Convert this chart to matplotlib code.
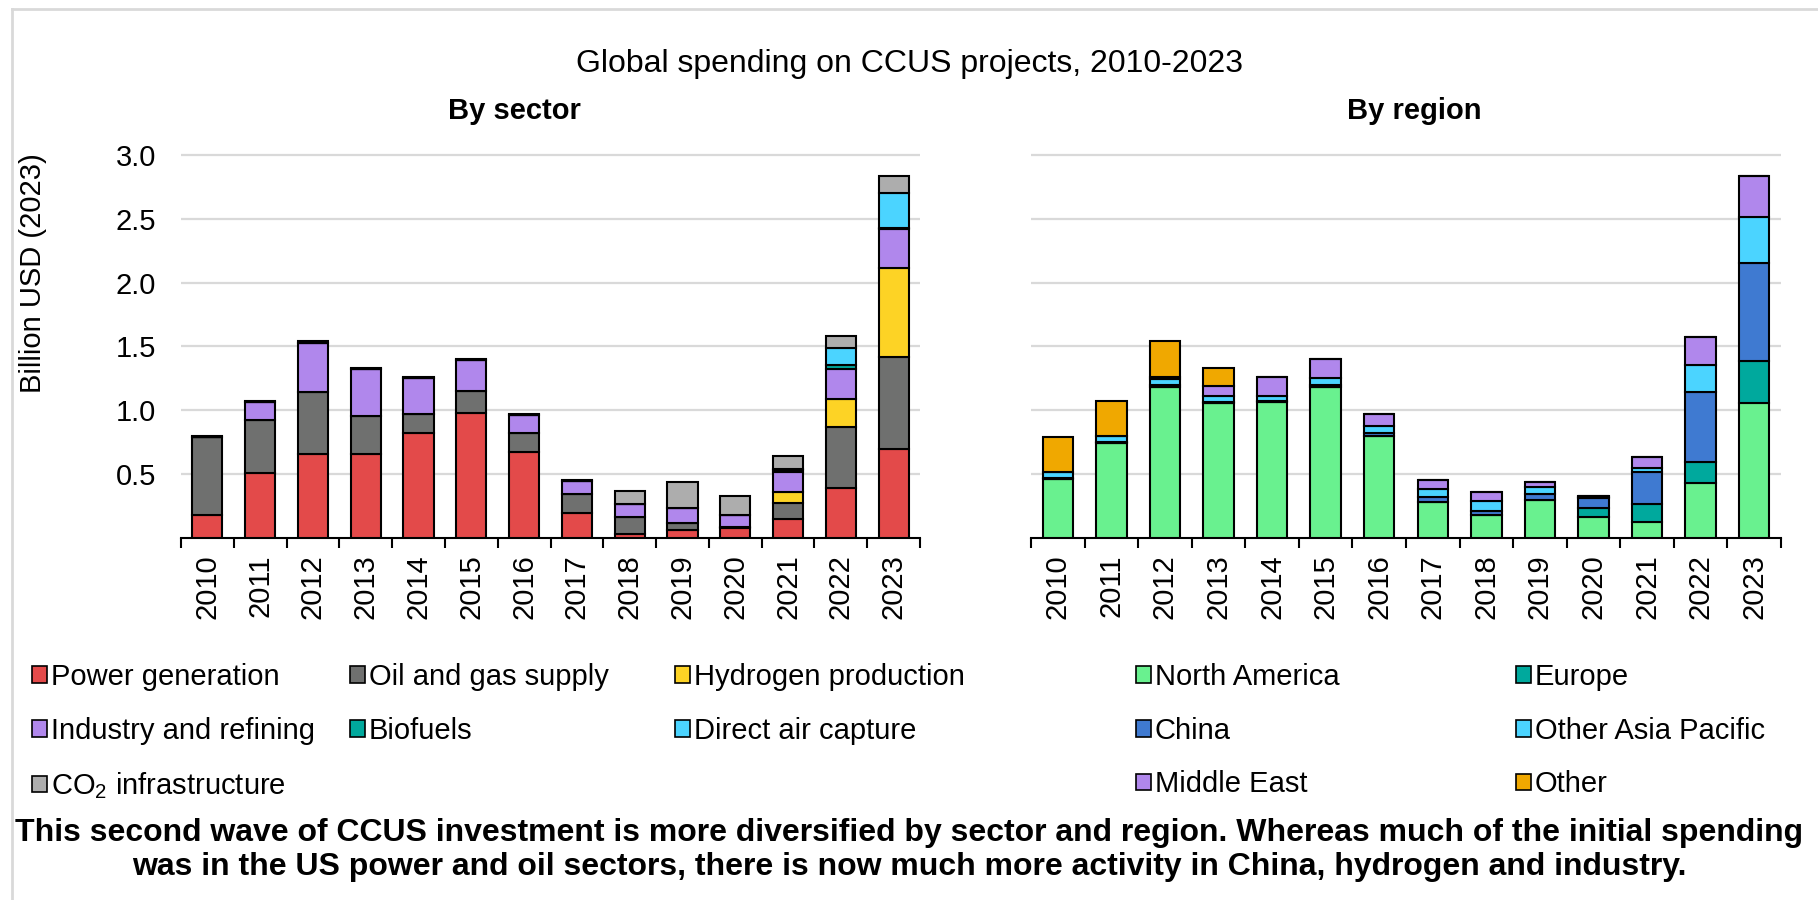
import numpy as np
import matplotlib.pyplot as plt
from matplotlib.patches import Patch
from matplotlib.lines import Line2D

plt.rcParams['font.family'] = ['Liberation Sans', 'DejaVu Sans']
plt.rcParams['mathtext.fontset'] = 'custom'
plt.rcParams['mathtext.rm'] = 'Liberation Sans'
plt.rcParams['mathtext.it'] = 'Liberation Sans'

# data (billion USD 2023)
years = list(range(2010, 2024))

sector_names = ['Power generation', 'Oil and gas supply', 'Hydrogen production',
                'Industry and refining', 'Biofuels', 'Direct air capture',
                'CO$_\\mathregular{2}$ infrastructure']
power = [0.18, 0.51, 0.656, 0.656, 0.82, 0.98, 0.67, 0.196, 0.026, 0.06, 0.076, 0.144, 0.392, 0.692]
oil_gas = [0.61, 0.41, 0.489, 0.30, 0.15, 0.17, 0.15, 0.144, 0.134, 0.058, 0.01, 0.128, 0.473, 0.728]
hydrogen = [0, 0, 0, 0, 0, 0, 0, 0, 0, 0, 0, 0.086, 0.225, 0.69]
industry = [0, 0.14, 0.378, 0.364, 0.28, 0.243, 0.14, 0.107, 0.104, 0.117, 0.092, 0.154, 0.23, 0.307]
biofuels = [0, 0, 0, 0, 0, 0, 0, 0, 0, 0, 0, 0.02, 0.03, 0.013]
dac = [0, 0, 0, 0, 0, 0, 0, 0, 0, 0, 0, 0.006, 0.137, 0.27]
co2_infra = [0.01, 0.01, 0.015, 0.01, 0.01, 0.01, 0.01, 0.008, 0.102, 0.205, 0.149, 0.10, 0.093, 0.136]
sector_colors = ['#E34A4A', '#6F706F', '#FDD325', '#B087EC', '#00A99D', '#4BD4FF', '#ADADAD']

region_names = ['North America', 'Europe', 'China', 'Other Asia Pacific', 'Middle East', 'Other']
north_america = [0.46, 0.74, 1.18, 1.055, 1.06, 1.184, 0.797, 0.277, 0.18, 0.295, 0.162, 0.12, 0.426, 1.053]
europe = [0, 0, 0, 0, 0, 0, 0, 0, 0, 0, 0.071, 0.144, 0.17, 0.334]
china = [0.01, 0.01, 0.015, 0.01, 0.008, 0.01, 0.02, 0.039, 0.03, 0.047, 0.075, 0.251, 0.549, 0.769]
other_apac = [0.045, 0.044, 0.045, 0.045, 0.045, 0.056, 0.061, 0.064, 0.08, 0.058, 0.01, 0.035, 0.211, 0.358]
middle_east = [0, 0, 0.017, 0.08, 0.147, 0.15, 0.092, 0.072, 0.07, 0.036, 0.009, 0.085, 0.22, 0.324]
other = [0.275, 0.276, 0.283, 0.14, 0, 0, 0, 0, 0, 0, 0, 0, 0, 0]
region_colors = ['#69F18F', '#00A99D', '#3F7AD1', '#4BD4FF', '#B087EC', '#F0A800']

yticks = [0.5, 1.0, 1.5, 2.0, 2.5, 3.0]

W, H = 1818, 900
fs = 21
fig = plt.figure(figsize=(W / 100, H / 100), dpi=100)


def box(x0, x1, ytop, ybot):
    return [x0 / W, 1 - ybot / H, (x1 - x0) / W, (ybot - ytop) / H]


def stacked(ax, series, colors, show_y):
    x = np.arange(len(years))
    bottom = np.zeros(len(years))
    for vals, c in zip(series, colors):
        vals = np.array(vals, dtype=float)
        ax.bar(x, vals, 0.57, bottom=bottom, color=c, edgecolor='black',
               linewidth=1.5, zorder=3)
        bottom += vals
    ax.set_xlim(-0.5, len(years) - 0.5)
    ax.set_ylim(0, 3.03)
    ax.set_xticks(x)
    ax.set_xticklabels([str(y) for y in years], rotation=90, fontsize=fs)
    ax.set_xticks(np.arange(-0.5, len(years), 1), minor=True)
    ax.tick_params(axis='x', which='major', length=0, pad=12)
    ax.tick_params(axis='x', which='minor', length=7, width=1.5, direction='out')
    ax.set_yticks(yticks)
    ax.set_yticklabels(['%.1f' % v for v in yticks], fontsize=fs)
    ax.tick_params(axis='y', length=0, pad=18, labelleft=show_y)
    ax.yaxis.grid(True, color='#D9D9D9', linewidth=1.6, zorder=0)
    ax.set_axisbelow(True)
    for s in ['top', 'right', 'left']:
        ax.spines[s].set_visible(False)
    ax.spines['bottom'].set_linewidth(1.5)


ax1 = fig.add_axes(box(181, 920, 151.1, 537.7))
ax2 = fig.add_axes(box(1031, 1781, 151.1, 537.7))
stacked(ax1, [power, oil_gas, hydrogen, industry, biofuels, dac, co2_infra], sector_colors, True)
stacked(ax2, [north_america, europe, china, other_apac, middle_east, other], region_colors, False)

fig.text(0.5, 1 - 64 / H, 'Global spending on CCUS projects, 2010-2023', ha='center', va='center', fontsize=23)
fig.text(514 / W, 1 - 111 / H, 'By sector', ha='center', va='center', fontsize=fs, fontweight='bold')
fig.text(1414 / W, 1 - 111 / H, 'By region', ha='center', va='center', fontsize=fs, fontweight='bold')
fig.text(33 / W, 1 - 273 / H, 'Billion USD (2023)', rotation=90, ha='center', va='center', fontsize=fs)
fig.text(0.5, 1 - 850 / H,
         'This second wave of CCUS investment is more diversified by sector and region. Whereas much of the initial spending\n'
         'was in the US power and oil sectors, there is now much more activity in China, hydrogen and industry.',
         ha='center', va='center', fontsize=23, fontweight='bold', linespacing=1.15)

# legends, one per column
def col_legend(idx, names, colors, xpix):
    handles = [Patch(facecolor=colors[i], edgecolor='black', linewidth=1.2) for i in idx]
    fig.legend(handles, [names[i] for i in idx], loc='upper left',
               bbox_to_anchor=(xpix / W, 1 - 663 / H), frameon=False, fontsize=fs,
               handlelength=0.5, handleheight=0.5, handletextpad=0.15,
               labelspacing=0.88, borderpad=0, borderaxespad=0)

col_legend([0, 3, 6], sector_names, sector_colors, 32)
col_legend([1, 4], sector_names, sector_colors, 350)
col_legend([2, 5], sector_names, sector_colors, 675)
col_legend([0, 2, 4], region_names, region_colors, 1136)
col_legend([1, 3, 5], region_names, region_colors, 1516)

# light frame on left and top
fig.add_artist(Line2D([12 / W, 12 / W], [0, 1 - 9 / H], color='#D9D9D9', linewidth=2))
fig.add_artist(Line2D([12 / W, 1], [1 - 9 / H, 1 - 9 / H], color='#D9D9D9', linewidth=2))

fig.savefig('out.png', dpi=100)
